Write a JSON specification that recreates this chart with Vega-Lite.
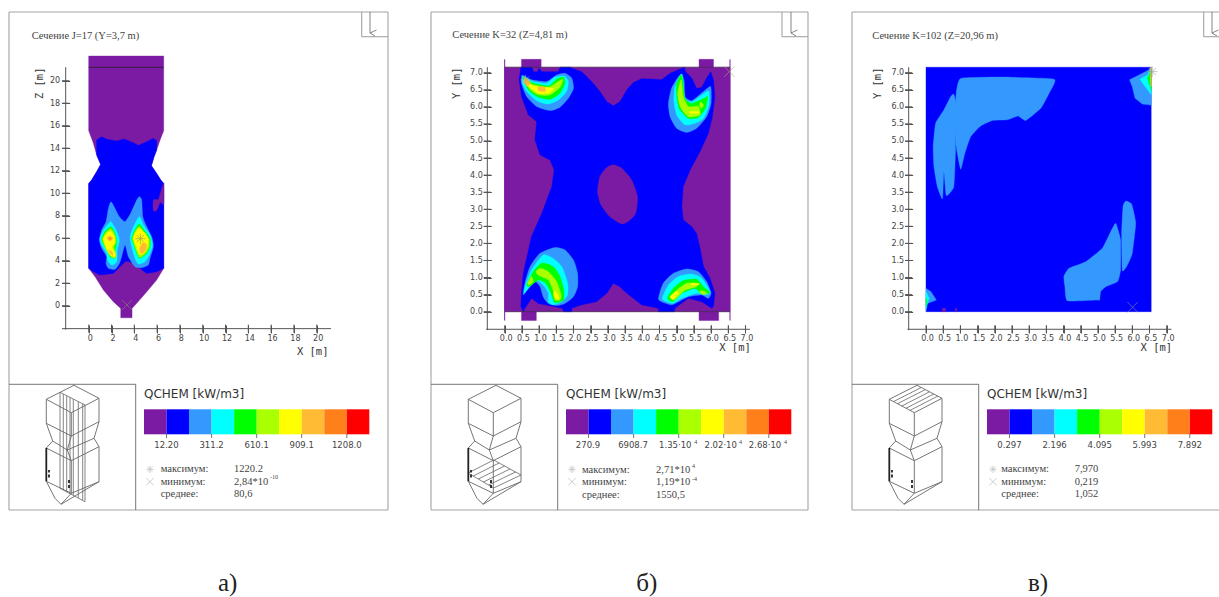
{
"$schema":"https://vega.github.io/schema/vega-lite/v6.json",
"padding":0,"spacing":0,"bounds":"flush","background":"white",
"config":{"view":{"stroke":null},"axis":{"grid":false,"domain":false,"ticks":true,"title":null,"labelFont":"DejaVu Sans","labelFontSize":8,"labelColor":"#444","tickColor":"#555","tickSize":8,"tickWidth":1,"tickOpacity":1,"labelOverlap":false,"labelFlush":false,"labelBound":false}},
"datasets":{
"tickA":[{"x":0,"x2":0,"y":-1.68,"y2":-2.4},{"x":2,"x2":2,"y":-1.68,"y2":-2.4},{"x":4,"x2":4,"y":-1.68,"y2":-2.4},{"x":6,"x2":6,"y":-1.68,"y2":-2.4},{"x":8,"x2":8,"y":-1.68,"y2":-2.4},{"x":10,"x2":10,"y":-1.68,"y2":-2.4},{"x":12,"x2":12,"y":-1.68,"y2":-2.4},{"x":14,"x2":14,"y":-1.68,"y2":-2.4},{"x":16,"x2":16,"y":-1.68,"y2":-2.4},{"x":18,"x2":18,"y":-1.68,"y2":-2.4},{"x":20,"x2":20,"y":-1.68,"y2":-2.4},
{"x":-2.35,"x2":-1.69,"y":0,"y2":0},{"x":-2.35,"x2":-1.69,"y":2,"y2":2},{"x":-2.35,"x2":-1.69,"y":4,"y2":4},{"x":-2.35,"x2":-1.69,"y":6,"y2":6},{"x":-2.35,"x2":-1.69,"y":8,"y2":8},{"x":-2.35,"x2":-1.69,"y":10,"y2":10},{"x":-2.35,"x2":-1.69,"y":12,"y2":12},{"x":-2.35,"x2":-1.69,"y":14,"y2":14},{"x":-2.35,"x2":-1.69,"y":16,"y2":16},{"x":-2.35,"x2":-1.69,"y":18,"y2":18},{"x":-2.35,"x2":-1.69,"y":20,"y2":20}],
"tickBC":[{"x":0,"x2":0,"y":-0.4,"y2":-0.63},{"x":0.5,"x2":0.5,"y":-0.4,"y2":-0.63},{"x":1,"x2":1,"y":-0.4,"y2":-0.63},{"x":1.5,"x2":1.5,"y":-0.4,"y2":-0.63},{"x":2,"x2":2,"y":-0.4,"y2":-0.63},{"x":2.5,"x2":2.5,"y":-0.4,"y2":-0.63},{"x":3,"x2":3,"y":-0.4,"y2":-0.63},{"x":3.5,"x2":3.5,"y":-0.4,"y2":-0.63},{"x":4,"x2":4,"y":-0.4,"y2":-0.63},{"x":4.5,"x2":4.5,"y":-0.4,"y2":-0.63},{"x":5,"x2":5,"y":-0.4,"y2":-0.63},{"x":5.5,"x2":5.5,"y":-0.4,"y2":-0.63},{"x":6,"x2":6,"y":-0.4,"y2":-0.63},{"x":6.5,"x2":6.5,"y":-0.4,"y2":-0.63},{"x":7,"x2":7,"y":-0.4,"y2":-0.63},
{"x":-0.61,"x2":-0.4,"y":0,"y2":0},{"x":-0.61,"x2":-0.4,"y":0.5,"y2":0.5},{"x":-0.61,"x2":-0.4,"y":1,"y2":1},{"x":-0.61,"x2":-0.4,"y":1.5,"y2":1.5},{"x":-0.61,"x2":-0.4,"y":2,"y2":2},{"x":-0.61,"x2":-0.4,"y":2.5,"y2":2.5},{"x":-0.61,"x2":-0.4,"y":3,"y2":3},{"x":-0.61,"x2":-0.4,"y":3.5,"y2":3.5},{"x":-0.61,"x2":-0.4,"y":4,"y2":4},{"x":-0.61,"x2":-0.4,"y":4.5,"y2":4.5},{"x":-0.61,"x2":-0.4,"y":5,"y2":5},{"x":-0.61,"x2":-0.4,"y":5.5,"y2":5.5},{"x":-0.61,"x2":-0.4,"y":6,"y2":6},{"x":-0.61,"x2":-0.4,"y":6.5,"y2":6.5},{"x":-0.61,"x2":-0.4,"y":7,"y2":7}],
"bar":[{"b":0,"u":135,"u2":157.5,"v":409.3,"v2":434.3},{"b":1,"u":157.5,"u2":180,"v":409.3,"v2":434.3},{"b":2,"u":180,"u2":202.6,"v":409.3,"v2":434.3},{"b":3,"u":202.6,"u2":225.1,"v":409.3,"v2":434.3},{"b":4,"u":225.1,"u2":247.7,"v":409.3,"v2":434.3},{"b":5,"u":247.7,"u2":270.2,"v":409.3,"v2":434.3},{"b":6,"u":270.2,"u2":292.7,"v":409.3,"v2":434.3},{"b":7,"u":292.7,"u2":315.3,"v":409.3,"v2":434.3},{"b":8,"u":315.3,"u2":337.8,"v":409.3,"v2":434.3},{"b":9,"u":337.8,"u2":360.3,"v":409.3,"v2":434.3}],
"wire":[
{"u":0,"v":384.3,"u2":126.7,"v2":384.3},{"u":126.7,"v":384.3,"u2":126.7,"v2":510},
{"u":157.5,"v":434,"u2":157.5,"v2":438},{"u":202.6,"v":434,"u2":202.6,"v2":438},{"u":247.7,"v":434,"u2":247.7,"v2":438},{"u":292.7,"v":434,"u2":292.7,"v2":438},{"u":337.8,"v":434,"u2":337.8,"v2":438},
{"u":65,"v":385.3,"u2":37.3,"v2":399.3},{"u":37.3,"v":399.3,"u2":62.3,"v2":412.7},{"u":62.3,"v":412.7,"u2":90,"v2":398.3},{"u":90,"v":398.3,"u2":65,"v2":385.3},
{"u":37.3,"v":399.3,"u2":37.3,"v2":423.3},{"u":62.3,"v":412.7,"u2":62.3,"v2":436},{"u":90,"v":398.3,"u2":90,"v2":421.7},
{"u":37.3,"v":423.3,"u2":62.3,"v2":436},{"u":62.3,"v":436,"u2":90,"v2":421.7},
{"u":37.3,"v":423.3,"u2":43.7,"v2":441},{"u":62.3,"v":436,"u2":58.3,"v2":450},{"u":90,"v":421.7,"u2":85,"v2":438.3},
{"u":43.7,"v":441,"u2":58.3,"v2":450},{"u":58.3,"v":450,"u2":85,"v2":438.3},
{"u":43.7,"v":441,"u2":37.3,"v2":448},{"u":58.3,"v":450,"u2":62.3,"v2":460.7},{"u":85,"v":438.3,"u2":90,"v2":446.7},
{"u":37.3,"v":448,"u2":62.3,"v2":460.7},{"u":62.3,"v":460.7,"u2":90,"v2":446.7},
{"u":62.3,"v":460.7,"u2":62.3,"v2":493.3},{"u":90,"v":446.7,"u2":90,"v2":481.7},
{"u":37.3,"v":481.3,"u2":62.3,"v2":493.3},{"u":62.3,"v":493.3,"u2":90,"v2":481.7},
{"u":37.3,"v":481.3,"u2":46,"v2":498.3},{"u":46,"v":498.3,"u2":52,"v2":504.3},{"u":62.3,"v":493.3,"u2":52,"v2":504.3},{"u":90,"v":481.7,"u2":52,"v2":504.3}
],
"dark":[{"u":37.3,"v":448,"u2":37.3,"v2":481.3},{"u":40,"v":470,"u2":40,"v2":472.5},{"u":40,"v":474.5,"u2":40,"v2":477.5},{"u":60,"v":480,"u2":60,"v2":483},{"u":60,"v":485,"u2":60,"v2":488}],
"glyph":[{"u":141,"v":469.3,"s":"max"},{"u":141,"v":481.7,"s":"min"}],
"polyA":[
{"p":"a0","b":0,"x":0,"y":22.19},{"p":"a0","b":0,"x":6.58,"y":22.19},{"p":"a0","b":0,"x":6.58,"y":15.56},{"p":"a0","b":0,"x":6.26,"y":14.73},{"p":"a0","b":0,"x":5.96,"y":13.84},{"p":"a0","b":0,"x":5.73,"y":13.24},{"p":"a0","b":0,"x":5.5,"y":12.44},{"p":"a0","b":0,"x":5.96,"y":11.76},{"p":"a0","b":0,"x":6.32,"y":11.17},{"p":"a0","b":0,"x":6.58,"y":10.87},{"p":"a0","b":0,"x":6.58,"y":3.32},{"p":"a0","b":0,"x":5.96,"y":2.28},{"p":"a0","b":0,"x":5.09,"y":1.24},{"p":"a0","b":0,"x":4.21,"y":0.21},{"p":"a0","b":0,"x":3.8,"y":-0.24},{"p":"a0","b":0,"x":3.8,"y":-1.07},{"p":"a0","b":0,"x":2.81,"y":-1.07},{"p":"a0","b":0,"x":2.81,"y":-0.24},{"p":"a0","b":0,"x":2.16,"y":0.36},{"p":"a0","b":0,"x":1.29,"y":1.39},{"p":"a0","b":0,"x":0.56,"y":2.58},{"p":"a0","b":0,"x":0,"y":3.32},{"p":"a0","b":0,"x":0,"y":10.87},{"p":"a0","b":0,"x":0.26,"y":11.17},{"p":"a0","b":0,"x":0.7,"y":11.91},{"p":"a0","b":0,"x":1.05,"y":12.56},{"p":"a0","b":0,"x":0.7,"y":13.39},{"p":"a0","b":0,"x":0.41,"y":14.43},{"p":"a0","b":0,"x":0,"y":15.56},
{"p":"a1","b":1,"x":0.7,"y":14.73},{"p":"a1","b":1,"x":1.14,"y":15.02},{"p":"a1","b":1,"x":1.58,"y":14.79},{"p":"a1","b":1,"x":2.46,"y":14.64},{"p":"a1","b":1,"x":3.1,"y":14.81},{"p":"a1","b":1,"x":3.92,"y":14.49},{"p":"a1","b":1,"x":4.36,"y":14.25},{"p":"a1","b":1,"x":5.09,"y":14.58},{"p":"a1","b":1,"x":5.67,"y":14.87},{"p":"a1","b":1,"x":5.96,"y":14.67},{"p":"a1","b":1,"x":5.96,"y":13.84},{"p":"a1","b":1,"x":5.73,"y":13.24},{"p":"a1","b":1,"x":5.5,"y":12.44},{"p":"a1","b":1,"x":5.96,"y":11.76},{"p":"a1","b":1,"x":6.32,"y":11.17},{"p":"a1","b":1,"x":6.58,"y":10.87},{"p":"a1","b":1,"x":6.58,"y":3.32},{"p":"a1","b":1,"x":5.96,"y":3.02},{"p":"a1","b":1,"x":5.09,"y":2.87},{"p":"a1","b":1,"x":4.5,"y":3.32},{"p":"a1","b":1,"x":3.77,"y":3.85},{"p":"a1","b":1,"x":3.27,"y":3.97},{"p":"a1","b":1,"x":2.75,"y":3.47},{"p":"a1","b":1,"x":2.16,"y":2.87},{"p":"a1","b":1,"x":0.99,"y":2.73},{"p":"a1","b":1,"x":0.41,"y":3.02},{"p":"a1","b":1,"x":0,"y":3.32},{"p":"a1","b":1,"x":0,"y":10.87},{"p":"a1","b":1,"x":0.26,"y":11.17},{"p":"a1","b":1,"x":0.7,"y":11.91},{"p":"a1","b":1,"x":1.05,"y":12.56},{"p":"a1","b":1,"x":0.7,"y":13.39},
{"p":"a1b","b":0,"x":5.67,"y":9.39},{"p":"a1b","b":0,"x":6.11,"y":9.45},{"p":"a1b","b":0,"x":6.32,"y":10.13},{"p":"a1b","b":0,"x":6.58,"y":10.87},{"p":"a1b","b":0,"x":6.58,"y":9.03},{"p":"a1b","b":0,"x":6.26,"y":9.18},{"p":"a1b","b":0,"x":5.96,"y":8.47},{"p":"a1b","b":0,"x":5.67,"y":8.47},
{"p":"a2","b":2,"x":1.96,"y":9.24},{"p":"a2","b":2,"x":2.31,"y":8.65},{"p":"a2","b":2,"x":2.69,"y":7.91},{"p":"a2","b":2,"x":3.19,"y":7.47},{"p":"a2","b":2,"x":3.68,"y":8.21},{"p":"a2","b":2,"x":4.21,"y":9.39},{"p":"a2","b":2,"x":4.44,"y":9.69},{"p":"a2","b":2,"x":4.65,"y":9.39},{"p":"a2","b":2,"x":4.74,"y":7.91},{"p":"a2","b":2,"x":5.09,"y":7.02},{"p":"a2","b":2,"x":5.53,"y":6.13},{"p":"a2","b":2,"x":5.67,"y":5.24},{"p":"a2","b":2,"x":5.38,"y":4.21},{"p":"a2","b":2,"x":5.23,"y":3.61},{"p":"a2","b":2,"x":4.65,"y":3.38},{"p":"a2","b":2,"x":4.06,"y":3.47},{"p":"a2","b":2,"x":3.48,"y":4.36},{"p":"a2","b":2,"x":3.19,"y":5.39},{"p":"a2","b":2,"x":2.89,"y":4.36},{"p":"a2","b":2,"x":2.69,"y":3.76},{"p":"a2","b":2,"x":2.31,"y":3.23},{"p":"a2","b":2,"x":1.73,"y":3.32},{"p":"a2","b":2,"x":1.52,"y":3.76},{"p":"a2","b":2,"x":1.58,"y":4.36},{"p":"a2","b":2,"x":1.14,"y":5.1},{"p":"a2","b":2,"x":0.94,"y":5.84},{"p":"a2","b":2,"x":1.14,"y":6.73},{"p":"a2","b":2,"x":1.52,"y":7.47},{"p":"a2","b":2,"x":1.73,"y":8.65},
{"p":"a3","b":3,"x":1.96,"y":7.47},{"p":"a3","b":3,"x":2.4,"y":6.73},{"p":"a3","b":3,"x":2.69,"y":5.84},{"p":"a3","b":3,"x":2.51,"y":4.95},{"p":"a3","b":3,"x":2.46,"y":3.91},{"p":"a3","b":3,"x":2.02,"y":3.61},{"p":"a3","b":3,"x":1.64,"y":4.06},{"p":"a3","b":3,"x":1.58,"y":4.65},{"p":"a3","b":3,"x":1.14,"y":5.39},{"p":"a3","b":3,"x":0.99,"y":5.99},{"p":"a3","b":3,"x":1.29,"y":6.73},{"p":"a3","b":3,"x":1.64,"y":7.17},
{"p":"a4","b":3,"x":4.44,"y":7.91},{"p":"a4","b":3,"x":4.8,"y":7.17},{"p":"a4","b":3,"x":5.38,"y":6.28},{"p":"a4","b":3,"x":5.61,"y":5.39},{"p":"a4","b":3,"x":5.32,"y":4.5},{"p":"a4","b":3,"x":4.94,"y":3.91},{"p":"a4","b":3,"x":4.36,"y":3.7},{"p":"a4","b":3,"x":4.06,"y":4.21},{"p":"a4","b":3,"x":3.77,"y":5.24},{"p":"a4","b":3,"x":3.63,"y":6.13},{"p":"a4","b":3,"x":3.92,"y":7.02},
{"p":"a5","b":4,"x":1.96,"y":7.02},{"p":"a5","b":4,"x":2.31,"y":6.43},{"p":"a5","b":4,"x":2.46,"y":5.69},{"p":"a5","b":4,"x":2.31,"y":4.8},{"p":"a5","b":4,"x":2.31,"y":4.21},{"p":"a5","b":4,"x":1.87,"y":4.36},{"p":"a5","b":4,"x":1.52,"y":5.1},{"p":"a5","b":4,"x":1.14,"y":5.84},{"p":"a5","b":4,"x":1.43,"y":6.58},
{"p":"a6","b":4,"x":4.44,"y":7.26},{"p":"a6","b":4,"x":4.85,"y":6.73},{"p":"a6","b":4,"x":5.38,"y":5.99},{"p":"a6","b":4,"x":5.38,"y":5.24},{"p":"a6","b":4,"x":5.09,"y":4.65},{"p":"a6","b":4,"x":4.5,"y":4.21},{"p":"a6","b":4,"x":4.27,"y":4.5},{"p":"a6","b":4,"x":3.98,"y":5.39},{"p":"a6","b":4,"x":3.77,"y":5.99},{"p":"a6","b":4,"x":4.06,"y":6.73},
{"p":"a6l","b":5,"x":1.96,"y":6.85},{"p":"a6l","b":5,"x":2.31,"y":6.25},{"p":"a6l","b":5,"x":2.38,"y":5.6},{"p":"a6l","b":5,"x":2.2,"y":5.2},{"p":"a6l","b":5,"x":2.38,"y":4.6},{"p":"a6l","b":5,"x":2.3,"y":4.25},{"p":"a6l","b":5,"x":1.9,"y":4.42},{"p":"a6l","b":5,"x":1.52,"y":5.05},{"p":"a6l","b":5,"x":1.22,"y":5.88},{"p":"a6l","b":5,"x":1.5,"y":6.5},
{"p":"a6r","b":5,"x":4.44,"y":7.05},{"p":"a6r","b":5,"x":4.85,"y":6.55},{"p":"a6r","b":5,"x":5.3,"y":5.95},{"p":"a6r","b":5,"x":5.3,"y":5.25},{"p":"a6r","b":5,"x":5.02,"y":4.7},{"p":"a6r","b":5,"x":4.5,"y":4.3},{"p":"a6r","b":5,"x":4.3,"y":4.6},{"p":"a6r","b":5,"x":4.02,"y":5.4},{"p":"a6r","b":5,"x":3.85,"y":6},{"p":"a6r","b":5,"x":4.1,"y":6.65},
{"p":"a7","b":6,"x":1.96,"y":6.58},{"p":"a7","b":6,"x":2.25,"y":6.13},{"p":"a7","b":6,"x":2.28,"y":5.54},{"p":"a7","b":6,"x":2.02,"y":5.24},{"p":"a7","b":6,"x":2.31,"y":4.65},{"p":"a7","b":6,"x":2.28,"y":4.3},{"p":"a7","b":6,"x":1.93,"y":4.5},{"p":"a7","b":6,"x":1.58,"y":5.1},{"p":"a7","b":6,"x":1.29,"y":5.9},{"p":"a7","b":6,"x":1.58,"y":6.43},
{"p":"a8","b":6,"x":4.44,"y":6.87},{"p":"a8","b":6,"x":4.94,"y":6.43},{"p":"a8","b":6,"x":5.23,"y":5.84},{"p":"a8","b":6,"x":5.09,"y":5.1},{"p":"a8","b":6,"x":4.65,"y":4.5},{"p":"a8","b":6,"x":4.36,"y":4.8},{"p":"a8","b":6,"x":4.06,"y":5.54},{"p":"a8","b":6,"x":3.92,"y":5.99},{"p":"a8","b":6,"x":4.15,"y":6.58},
{"p":"a9","b":7,"x":4.7,"y":5.55},{"p":"a9","b":7,"x":5.05,"y":5.5},{"p":"a9","b":7,"x":5.05,"y":5.05},{"p":"a9","b":7,"x":4.65,"y":4.6},{"p":"a9","b":7,"x":4.45,"y":5},
{"p":"a10","b":7,"x":1.6,"y":6},{"p":"a10","b":7,"x":1.85,"y":6.2},{"p":"a10","b":7,"x":2.15,"y":6},{"p":"a10","b":7,"x":1.85,"y":5.75},
{"p":"a11","b":8,"x":1.75,"y":6},{"p":"a11","b":8,"x":1.9,"y":6.07},{"p":"a11","b":8,"x":2,"y":5.95},{"p":"a11","b":8,"x":1.85,"y":5.88},
{"p":"a12","b":7,"x":1.75,"y":5},{"p":"a12","b":7,"x":2.1,"y":4.75},{"p":"a12","b":7,"x":2.1,"y":4.45},{"p":"a12","b":7,"x":1.85,"y":4.7}
],
"polyB":[
{"p":"b0","b":0,"x":0,"y":0},{"p":"b0","b":0,"x":0,"y":7.16},{"p":"b0","b":0,"x":0.49,"y":7.16},{"p":"b0","b":0,"x":0.49,"y":7.39},{"p":"b0","b":0,"x":1.06,"y":7.39},{"p":"b0","b":0,"x":1.06,"y":7.16},{"p":"b0","b":0,"x":5.65,"y":7.16},{"p":"b0","b":0,"x":5.65,"y":7.39},{"p":"b0","b":0,"x":6.07,"y":7.39},{"p":"b0","b":0,"x":6.07,"y":7.16},{"p":"b0","b":0,"x":6.55,"y":7.16},{"p":"b0","b":0,"x":6.55,"y":0},{"p":"b0","b":0,"x":6.22,"y":0},{"p":"b0","b":0,"x":6.22,"y":-0.26},{"p":"b0","b":0,"x":5.65,"y":-0.26},{"p":"b0","b":0,"x":5.65,"y":0},{"p":"b0","b":0,"x":0.92,"y":0},{"p":"b0","b":0,"x":0.92,"y":-0.26},{"p":"b0","b":0,"x":0.49,"y":-0.26},{"p":"b0","b":0,"x":0.49,"y":0},
{"p":"b1","b":1,"x":0.47,"y":7.16},{"p":"b1","b":1,"x":0.8,"y":7.16},{"p":"b1","b":1,"x":0.83,"y":7.03},{"p":"b1","b":1,"x":0.96,"y":7.03},{"p":"b1","b":1,"x":1,"y":7.13},{"p":"b1","b":1,"x":1.08,"y":7.03},{"p":"b1","b":1,"x":1.56,"y":7.03},{"p":"b1","b":1,"x":1.61,"y":7.16},{"p":"b1","b":1,"x":1.92,"y":7.16},{"p":"b1","b":1,"x":1.95,"y":7.13},{"p":"b1","b":1,"x":2.24,"y":7.03},{"p":"b1","b":1,"x":2.53,"y":6.74},{"p":"b1","b":1,"x":2.77,"y":6.45},{"p":"b1","b":1,"x":2.97,"y":6.15},{"p":"b1","b":1,"x":3.16,"y":6.03},{"p":"b1","b":1,"x":3.35,"y":6.15},{"p":"b1","b":1,"x":3.55,"y":6.49},{"p":"b1","b":1,"x":3.74,"y":6.71},{"p":"b1","b":1,"x":3.98,"y":6.82},{"p":"b1","b":1,"x":4.37,"y":6.81},{"p":"b1","b":1,"x":4.56,"y":6.79},{"p":"b1","b":1,"x":4.81,"y":6.98},{"p":"b1","b":1,"x":5.15,"y":7.13},{"p":"b1","b":1,"x":5.22,"y":7.16},{"p":"b1","b":1,"x":5.26,"y":7.03},{"p":"b1","b":1,"x":5.44,"y":6.84},{"p":"b1","b":1,"x":5.58,"y":6.54},{"p":"b1","b":1,"x":5.73,"y":6.57},{"p":"b1","b":1,"x":5.87,"y":6.84},{"p":"b1","b":1,"x":5.99,"y":7.03},{"p":"b1","b":1,"x":6.07,"y":6.79},{"p":"b1","b":1,"x":6.11,"y":6.3},{"p":"b1","b":1,"x":6.04,"y":5.71},{"p":"b1","b":1,"x":5.92,"y":5.22},{"p":"b1","b":1,"x":5.68,"y":4.69},{"p":"b1","b":1,"x":5.39,"y":4.15},{"p":"b1","b":1,"x":5.19,"y":3.66},{"p":"b1","b":1,"x":5.15,"y":3.08},{"p":"b1","b":1,"x":5.19,"y":2.69},{"p":"b1","b":1,"x":5.44,"y":2.49},{"p":"b1","b":1,"x":5.58,"y":2.29},{"p":"b1","b":1,"x":5.68,"y":1.86},{"p":"b1","b":1,"x":5.78,"y":1.32},{"p":"b1","b":1,"x":5.97,"y":0.98},{"p":"b1","b":1,"x":6.11,"y":0.54},{"p":"b1","b":1,"x":6.07,"y":0.15},{"p":"b1","b":1,"x":6.02,"y":0.1},{"p":"b1","b":1,"x":5.73,"y":0.29},{"p":"b1","b":1,"x":5.34,"y":0.39},{"p":"b1","b":1,"x":4.95,"y":0.1},{"p":"b1","b":1,"x":4.93,"y":0},{"p":"b1","b":1,"x":4.47,"y":0},{"p":"b1","b":1,"x":4.47,"y":0.1},{"p":"b1","b":1,"x":3.98,"y":0.2},{"p":"b1","b":1,"x":3.55,"y":0.54},{"p":"b1","b":1,"x":3.35,"y":0.73},{"p":"b1","b":1,"x":3.16,"y":0.83},{"p":"b1","b":1,"x":2.97,"y":0.54},{"p":"b1","b":1,"x":2.67,"y":0.29},{"p":"b1","b":1,"x":2.24,"y":0.2},{"p":"b1","b":1,"x":1.95,"y":0.1},{"p":"b1","b":1,"x":1.95,"y":0},{"p":"b1","b":1,"x":1.71,"y":0},{"p":"b1","b":1,"x":1.68,"y":0.1},{"p":"b1","b":1,"x":0.98,"y":0.24},{"p":"b1","b":1,"x":0.78,"y":0.39},{"p":"b1","b":1,"x":0.59,"y":0.1},{"p":"b1","b":1,"x":0.54,"y":0},{"p":"b1","b":1,"x":0.47,"y":0.15},{"p":"b1","b":1,"x":0.49,"y":0.54},{"p":"b1","b":1,"x":0.54,"y":1.12},{"p":"b1","b":1,"x":0.78,"y":2.2},{"p":"b1","b":1,"x":1.08,"y":2.88},{"p":"b1","b":1,"x":1.37,"y":3.66},{"p":"b1","b":1,"x":1.44,"y":4.15},{"p":"b1","b":1,"x":1.32,"y":4.44},{"p":"b1","b":1,"x":1.03,"y":4.59},{"p":"b1","b":1,"x":0.88,"y":5.03},{"p":"b1","b":1,"x":0.93,"y":5.57},{"p":"b1","b":1,"x":0.69,"y":5.76},{"p":"b1","b":1,"x":0.49,"y":6.3},{"p":"b1","b":1,"x":0.42,"y":6.79},
{"p":"bh","b":0,"x":3.16,"y":4.3},{"p":"bh","b":0,"x":3.4,"y":4.2},{"p":"bh","b":0,"x":3.69,"y":3.86},{"p":"bh","b":0,"x":3.86,"y":3.37},{"p":"bh","b":0,"x":3.81,"y":2.88},{"p":"bh","b":0,"x":3.59,"y":2.64},{"p":"bh","b":0,"x":3.4,"y":2.57},{"p":"bh","b":0,"x":3.06,"y":2.78},{"p":"bh","b":0,"x":2.8,"y":3.13},{"p":"bh","b":0,"x":2.7,"y":3.52},{"p":"bh","b":0,"x":2.77,"y":3.96},{"p":"bh","b":0,"x":2.97,"y":4.22},
{"p":"tl2","b":2,"x":0.51,"y":6.93},{"p":"tl2","b":2,"x":0.78,"y":6.79},{"p":"tl2","b":2,"x":1.22,"y":6.74},{"p":"tl2","b":2,"x":1.51,"y":6.93},{"p":"tl2","b":2,"x":1.75,"y":6.98},{"p":"tl2","b":2,"x":1.95,"y":6.84},{"p":"tl2","b":2,"x":2,"y":6.54},{"p":"tl2","b":2,"x":1.85,"y":6.25},{"p":"tl2","b":2,"x":1.61,"y":5.99},{"p":"tl2","b":2,"x":1.32,"y":5.89},{"p":"tl2","b":2,"x":0.93,"y":6.01},{"p":"tl2","b":2,"x":0.64,"y":6.3},{"p":"tl2","b":2,"x":0.49,"y":6.69},
{"p":"tl3","b":3,"x":0.54,"y":6.88},{"p":"tl3","b":3,"x":0.83,"y":6.74},{"p":"tl3","b":3,"x":1.22,"y":6.69},{"p":"tl3","b":3,"x":1.46,"y":6.87},{"p":"tl3","b":3,"x":1.73,"y":6.9},{"p":"tl3","b":3,"x":1.85,"y":6.74},{"p":"tl3","b":3,"x":1.8,"y":6.45},{"p":"tl3","b":3,"x":1.56,"y":6.2},{"p":"tl3","b":3,"x":1.27,"y":6.08},{"p":"tl3","b":3,"x":0.93,"y":6.18},{"p":"tl3","b":3,"x":0.64,"y":6.45},{"p":"tl3","b":3,"x":0.51,"y":6.69},
{"p":"tl4","b":4,"x":0.54,"y":6.87},{"p":"tl4","b":4,"x":0.78,"y":6.71},{"p":"tl4","b":4,"x":1.27,"y":6.61},{"p":"tl4","b":4,"x":1.51,"y":6.81},{"p":"tl4","b":4,"x":1.71,"y":6.87},{"p":"tl4","b":4,"x":1.75,"y":6.69},{"p":"tl4","b":4,"x":1.61,"y":6.4},{"p":"tl4","b":4,"x":1.32,"y":6.22},{"p":"tl4","b":4,"x":0.98,"y":6.28},{"p":"tl4","b":4,"x":0.69,"y":6.49},
{"p":"tl5","b":5,"x":0.59,"y":6.84},{"p":"tl5","b":5,"x":0.78,"y":6.67},{"p":"tl5","b":5,"x":1.27,"y":6.57},{"p":"tl5","b":5,"x":1.56,"y":6.74},{"p":"tl5","b":5,"x":1.69,"y":6.81},{"p":"tl5","b":5,"x":1.61,"y":6.57},{"p":"tl5","b":5,"x":1.32,"y":6.35},{"p":"tl5","b":5,"x":0.98,"y":6.35},{"p":"tl5","b":5,"x":0.71,"y":6.54},
{"p":"tl6","b":6,"x":0.59,"y":6.81},{"p":"tl6","b":6,"x":0.83,"y":6.61},{"p":"tl6","b":6,"x":1.41,"y":6.54},{"p":"tl6","b":6,"x":1.27,"y":6.4},{"p":"tl6","b":6,"x":0.98,"y":6.4},{"p":"tl6","b":6,"x":0.74,"y":6.57},
{"p":"tl7","b":7,"x":0.98,"y":6.59},{"p":"tl7","b":7,"x":1.17,"y":6.57},{"p":"tl7","b":7,"x":1.17,"y":6.45},{"p":"tl7","b":7,"x":0.98,"y":6.47},
{"p":"tl8","b":7,"x":0.6,"y":6.85},{"p":"tl8","b":7,"x":0.75,"y":6.7},{"p":"tl8","b":7,"x":0.65,"y":6.6},{"p":"tl8","b":7,"x":0.55,"y":6.75},
{"p":"tr2","b":2,"x":5.15,"y":6.96},{"p":"tr2","b":2,"x":5.22,"y":6.74},{"p":"tr2","b":2,"x":5.24,"y":6.3},{"p":"tr2","b":2,"x":5.44,"y":6.18},{"p":"tr2","b":2,"x":5.78,"y":6.45},{"p":"tr2","b":2,"x":5.99,"y":6.59},{"p":"tr2","b":2,"x":6,"y":6.1},{"p":"tr2","b":2,"x":5.87,"y":5.71},{"p":"tr2","b":2,"x":5.58,"y":5.37},{"p":"tr2","b":2,"x":5.29,"y":5.25},{"p":"tr2","b":2,"x":5,"y":5.37},{"p":"tr2","b":2,"x":4.81,"y":5.71},{"p":"tr2","b":2,"x":4.76,"y":6.1},{"p":"tr2","b":2,"x":4.85,"y":6.54},{"p":"tr2","b":2,"x":5.05,"y":6.88},
{"p":"tr3","b":3,"x":5.15,"y":6.96},{"p":"tr3","b":3,"x":5.24,"y":6.25},{"p":"tr3","b":3,"x":5.44,"y":6.15},{"p":"tr3","b":3,"x":5.8,"y":6.4},{"p":"tr3","b":3,"x":5.94,"y":6.45},{"p":"tr3","b":3,"x":5.94,"y":6.05},{"p":"tr3","b":3,"x":5.78,"y":5.66},{"p":"tr3","b":3,"x":5.53,"y":5.52},{"p":"tr3","b":3,"x":5.24,"y":5.47},{"p":"tr3","b":3,"x":5,"y":5.76},{"p":"tr3","b":3,"x":4.92,"y":6.2},{"p":"tr3","b":3,"x":4.95,"y":6.59},
{"p":"tr4","b":4,"x":5.15,"y":6.93},{"p":"tr4","b":4,"x":5.24,"y":6.25},{"p":"tr4","b":4,"x":5.44,"y":6.1},{"p":"tr4","b":4,"x":5.8,"y":6.25},{"p":"tr4","b":4,"x":5.9,"y":6.3},{"p":"tr4","b":4,"x":5.84,"y":5.96},{"p":"tr4","b":4,"x":5.63,"y":5.69},{"p":"tr4","b":4,"x":5.34,"y":5.66},{"p":"tr4","b":4,"x":5.07,"y":5.96},{"p":"tr4","b":4,"x":5,"y":6.35},{"p":"tr4","b":4,"x":5,"y":6.69},
{"p":"tr5","b":5,"x":5.13,"y":6.79},{"p":"tr5","b":5,"x":5.19,"y":6.3},{"p":"tr5","b":5,"x":5.34,"y":6.01},{"p":"tr5","b":5,"x":5.63,"y":6.01},{"p":"tr5","b":5,"x":5.68,"y":5.76},{"p":"tr5","b":5,"x":5.34,"y":5.71},{"p":"tr5","b":5,"x":5.1,"y":6.01},{"p":"tr5","b":5,"x":5.03,"y":6.4},
{"p":"tr6","b":5,"x":5.7,"y":6.15},{"p":"tr6","b":5,"x":5.78,"y":6.05},{"p":"tr6","b":5,"x":5.72,"y":5.95},{"p":"tr6","b":5,"x":5.66,"y":6.05},
{"p":"tr7","b":6,"x":5.39,"y":5.86},{"p":"tr7","b":6,"x":5.63,"y":5.86},{"p":"tr7","b":6,"x":5.63,"y":5.81},{"p":"tr7","b":6,"x":5.39,"y":5.81},
{"p":"bl2","b":2,"x":1.46,"y":1.88},{"p":"bl2","b":2,"x":1.75,"y":1.81},{"p":"bl2","b":2,"x":2,"y":1.51},{"p":"bl2","b":2,"x":2.12,"y":1.12},{"p":"bl2","b":2,"x":2.12,"y":0.73},{"p":"bl2","b":2,"x":2,"y":0.44},{"p":"bl2","b":2,"x":1.75,"y":0.24},{"p":"bl2","b":2,"x":1.51,"y":0.18},{"p":"bl2","b":2,"x":1.27,"y":0.24},{"p":"bl2","b":2,"x":1.12,"y":0.44},{"p":"bl2","b":2,"x":1.03,"y":0.73},{"p":"bl2","b":2,"x":0.88,"y":0.88},{"p":"bl2","b":2,"x":0.69,"y":0.68},{"p":"bl2","b":2,"x":0.54,"y":0.49},{"p":"bl2","b":2,"x":0.59,"y":0.83},{"p":"bl2","b":2,"x":0.74,"y":1.32},{"p":"bl2","b":2,"x":1.03,"y":1.71},
{"p":"bl3","b":3,"x":1.12,"y":1.66},{"p":"bl3","b":3,"x":1.41,"y":1.56},{"p":"bl3","b":3,"x":1.66,"y":1.32},{"p":"bl3","b":3,"x":1.83,"y":0.83},{"p":"bl3","b":3,"x":1.83,"y":0.49},{"p":"bl3","b":3,"x":1.66,"y":0.29},{"p":"bl3","b":3,"x":1.41,"y":0.2},{"p":"bl3","b":3,"x":1.27,"y":0.29},{"p":"bl3","b":3,"x":1.27,"y":0.54},{"p":"bl3","b":3,"x":1.12,"y":0.78},{"p":"bl3","b":3,"x":0.93,"y":0.91},{"p":"bl3","b":3,"x":0.71,"y":0.71},{"p":"bl3","b":3,"x":0.57,"y":0.54},{"p":"bl3","b":3,"x":0.59,"y":0.73},{"p":"bl3","b":3,"x":0.78,"y":1.22},
{"p":"bl4","b":4,"x":1.08,"y":1.42},{"p":"bl4","b":4,"x":1.41,"y":1.32},{"p":"bl4","b":4,"x":1.61,"y":1.03},{"p":"bl4","b":4,"x":1.72,"y":0.63},{"p":"bl4","b":4,"x":1.71,"y":0.34},{"p":"bl4","b":4,"x":1.46,"y":0.26},{"p":"bl4","b":4,"x":1.35,"y":0.54},{"p":"bl4","b":4,"x":1.19,"y":0.83},{"p":"bl4","b":4,"x":0.98,"y":0.93},{"p":"bl4","b":4,"x":0.74,"y":0.75},{"p":"bl4","b":4,"x":0.64,"y":0.78},{"p":"bl4","b":4,"x":0.83,"y":1.17},
{"p":"bl5","b":5,"x":1.03,"y":1.27},{"p":"bl5","b":5,"x":1.27,"y":1.17},{"p":"bl5","b":5,"x":1.51,"y":0.88},{"p":"bl5","b":5,"x":1.64,"y":0.49},{"p":"bl5","b":5,"x":1.61,"y":0.34},{"p":"bl5","b":5,"x":1.46,"y":0.34},{"p":"bl5","b":5,"x":1.41,"y":0.63},{"p":"bl5","b":5,"x":1.27,"y":0.93},{"p":"bl5","b":5,"x":0.98,"y":1.07},{"p":"bl5","b":5,"x":0.91,"y":1.17},
{"p":"bl6","b":5,"x":0.78,"y":1.03},{"p":"bl6","b":5,"x":0.83,"y":0.88},{"p":"bl6","b":5,"x":0.71,"y":0.78},{"p":"bl6","b":5,"x":0.67,"y":0.83},
{"p":"bl7","b":6,"x":1.45,"y":0.62},{"p":"bl7","b":6,"x":1.58,"y":0.42},{"p":"bl7","b":6,"x":1.5,"y":0.35},{"p":"bl7","b":6,"x":1.42,"y":0.5},
{"p":"br2","b":2,"x":4.47,"y":0.39},{"p":"br2","b":2,"x":4.61,"y":0.83},{"p":"br2","b":2,"x":4.9,"y":1.12},{"p":"br2","b":2,"x":5.29,"y":1.25},{"p":"br2","b":2,"x":5.63,"y":1.17},{"p":"br2","b":2,"x":5.87,"y":0.88},{"p":"br2","b":2,"x":6,"y":0.54},{"p":"br2","b":2,"x":5.92,"y":0.39},{"p":"br2","b":2,"x":5.73,"y":0.49},{"p":"br2","b":2,"x":5.34,"y":0.44},{"p":"br2","b":2,"x":5.05,"y":0.29},{"p":"br2","b":2,"x":4.85,"y":0.2},{"p":"br2","b":2,"x":4.56,"y":0.29},
{"p":"br3","b":3,"x":4.58,"y":0.39},{"p":"br3","b":3,"x":4.76,"y":0.78},{"p":"br3","b":3,"x":5.05,"y":1.03},{"p":"br3","b":3,"x":5.44,"y":1.1},{"p":"br3","b":3,"x":5.73,"y":0.98},{"p":"br3","b":3,"x":5.97,"y":0.59},{"p":"br3","b":3,"x":5.87,"y":0.49},{"p":"br3","b":3,"x":5.58,"y":0.54},{"p":"br3","b":3,"x":5.15,"y":0.39},{"p":"br3","b":3,"x":4.9,"y":0.24},{"p":"br3","b":3,"x":4.71,"y":0.29},
{"p":"br4","b":4,"x":4.73,"y":0.39},{"p":"br4","b":4,"x":4.9,"y":0.68},{"p":"br4","b":4,"x":5.19,"y":0.91},{"p":"br4","b":4,"x":5.58,"y":0.95},{"p":"br4","b":4,"x":5.78,"y":0.73},{"p":"br4","b":4,"x":5.97,"y":0.56},{"p":"br4","b":4,"x":5.73,"y":0.52},{"p":"br4","b":4,"x":5.53,"y":0.68},{"p":"br4","b":4,"x":5.15,"y":0.54},{"p":"br4","b":4,"x":4.9,"y":0.29},
{"p":"br5","b":5,"x":4.81,"y":0.44},{"p":"br5","b":5,"x":5,"y":0.63},{"p":"br5","b":5,"x":5.29,"y":0.83},{"p":"br5","b":5,"x":5.58,"y":0.83},{"p":"br5","b":5,"x":5.58,"y":0.73},{"p":"br5","b":5,"x":5.24,"y":0.63},{"p":"br5","b":5,"x":4.93,"y":0.34},
{"p":"br6","b":6,"x":4.81,"y":0.44},{"p":"br6","b":6,"x":5,"y":0.59},{"p":"br6","b":6,"x":5.05,"y":0.54},{"p":"br6","b":6,"x":4.9,"y":0.37},
{"p":"br7","b":6,"x":5.43,"y":0.83},{"p":"br7","b":6,"x":5.65,"y":0.83},{"p":"br7","b":6,"x":5.63,"y":0.78},{"p":"br7","b":6,"x":5.43,"y":0.78},
{"p":"br8","b":5,"x":5.7,"y":0.62},{"p":"br8","b":5,"x":5.88,"y":0.56},{"p":"br8","b":5,"x":5.8,"y":0.5},{"p":"br8","b":5,"x":5.68,"y":0.55}
],
"polyC":[
{"p":"c0","b":1,"x":0,"y":0},{"p":"c0","b":1,"x":0,"y":7.16},{"p":"c0","b":1,"x":6.55,"y":7.16},{"p":"c0","b":1,"x":6.55,"y":0},
{"p":"c1","b":2,"x":1.01,"y":6.83},{"p":"c1","b":2,"x":2.22,"y":6.87},{"p":"c1","b":2,"x":3.73,"y":6.81},{"p":"c1","b":2,"x":3.58,"y":6.4},{"p":"c1","b":2,"x":3.34,"y":5.96},{"p":"c1","b":2,"x":2.9,"y":5.6},{"p":"c1","b":2,"x":2.68,"y":5.73},{"p":"c1","b":2,"x":2.37,"y":5.62},{"p":"c1","b":2,"x":1.93,"y":5.6},{"p":"c1","b":2,"x":1.59,"y":5.44},{"p":"c1","b":2,"x":1.3,"y":5.13},{"p":"c1","b":2,"x":1.13,"y":4.64},{"p":"c1","b":2,"x":1.01,"y":4.17},{"p":"c1","b":2,"x":0.88,"y":4.83},{"p":"c1","b":2,"x":0.84,"y":5.81},{"p":"c1","b":2,"x":0.88,"y":6.4},
{"p":"c2","b":2,"x":0.81,"y":6.37},{"p":"c2","b":2,"x":0.88,"y":6.01},{"p":"c2","b":2,"x":0.86,"y":4.74},{"p":"c2","b":2,"x":0.81,"y":3.66},{"p":"c2","b":2,"x":0.59,"y":3.4},{"p":"c2","b":2,"x":0.52,"y":4.1},{"p":"c2","b":2,"x":0.48,"y":3.3},{"p":"c2","b":2,"x":0.33,"y":3.66},{"p":"c2","b":2,"x":0.23,"y":4.25},{"p":"c2","b":2,"x":0.21,"y":4.83},{"p":"c2","b":2,"x":0.28,"y":5.52},{"p":"c2","b":2,"x":0.52,"y":5.91},{"p":"c2","b":2,"x":0.72,"y":6.3},
{"p":"c3","b":2,"x":5.52,"y":2.59},{"p":"c3","b":2,"x":5.66,"y":2.1},{"p":"c3","b":2,"x":5.66,"y":1.22},{"p":"c3","b":2,"x":5.57,"y":0.88},{"p":"c3","b":2,"x":5.23,"y":0.73},{"p":"c3","b":2,"x":5.08,"y":0.59},{"p":"c3","b":2,"x":5.05,"y":0.34},{"p":"c3","b":2,"x":4.94,"y":0.34},{"p":"c3","b":2,"x":4.11,"y":0.32},{"p":"c3","b":2,"x":4.04,"y":0.73},{"p":"c3","b":2,"x":4.01,"y":1.03},{"p":"c3","b":2,"x":4.16,"y":1.27},{"p":"c3","b":2,"x":4.64,"y":1.46},{"p":"c3","b":2,"x":5.13,"y":1.86},{"p":"c3","b":2,"x":5.37,"y":2.34},
{"p":"c4","b":2,"x":5.81,"y":3.24},{"p":"c4","b":2,"x":5.98,"y":3.15},{"p":"c4","b":2,"x":6.1,"y":2.59},{"p":"c4","b":2,"x":6,"y":1.71},{"p":"c4","b":2,"x":5.86,"y":1.37},{"p":"c4","b":2,"x":5.71,"y":1.2},{"p":"c4","b":2,"x":5.69,"y":2.29},{"p":"c4","b":2,"x":5.73,"y":3.08},
{"p":"c5","b":2,"x":5.92,"y":6.79},{"p":"c5","b":2,"x":6.44,"y":7.06},{"p":"c5","b":2,"x":6.55,"y":7.15},{"p":"c5","b":2,"x":6.55,"y":6.05},{"p":"c5","b":2,"x":6.29,"y":6.08},{"p":"c5","b":2,"x":6.08,"y":6.25},{"p":"c5","b":2,"x":6,"y":6.59},
{"p":"c6","b":3,"x":6.22,"y":6.81},{"p":"c6","b":3,"x":6.44,"y":6.93},{"p":"c6","b":3,"x":6.55,"y":7.13},{"p":"c6","b":3,"x":6.55,"y":6.35},
{"p":"c7","b":4,"x":6.44,"y":6.84},{"p":"c7","b":4,"x":6.55,"y":7.08},{"p":"c7","b":4,"x":6.55,"y":6.49},
{"p":"c8","b":7,"x":6.52,"y":7.15},{"p":"c8","b":7,"x":6.55,"y":7.15},{"p":"c8","b":7,"x":6.55,"y":6.6},{"p":"c8","b":7,"x":6.53,"y":6.6},
{"p":"c9","b":2,"x":0,"y":0.68},{"p":"c9","b":2,"x":0.14,"y":0.59},{"p":"c9","b":2,"x":0.3,"y":0.34},{"p":"c9","b":2,"x":0.04,"y":0.24},{"p":"c9","b":2,"x":0,"y":0},
{"p":"c10","b":3,"x":0,"y":0.59},{"p":"c10","b":3,"x":0.09,"y":0.39},{"p":"c10","b":3,"x":0,"y":0.1},
{"p":"c11","b":4,"x":0,"y":0.4},{"p":"c11","b":4,"x":0.03,"y":0.3},{"p":"c11","b":4,"x":0,"y":0.15},
{"p":"c12","b":0,"x":0.47,"y":0},{"p":"c12","b":0,"x":0.57,"y":0},{"p":"c12","b":0,"x":0.57,"y":0.1},{"p":"c12","b":0,"x":0.47,"y":0.1},
{"p":"c13","b":0,"x":0.85,"y":0},{"p":"c13","b":0,"x":0.89,"y":0},{"p":"c13","b":0,"x":0.89,"y":0.1},{"p":"c13","b":0,"x":0.85,"y":0.1}
]
},
"hconcat":[
{"width":406,"height":597,"resolve":{"scale":{"x":"independent","y":"independent"}},
"layer":[
{"encoding":{
"x":{"field":"x","type":"quantitative","scale":{"domain":[-7.781,27.833],"nice":false,"zero":false},"axis":{"orient":"bottom","offset":-272,"values":[0,2,4,6,8,10,12,14,16,18,20],"labelPadding":1,"labelOffset":1}},
"y":{"field":"y","type":"quantitative","scale":{"domain":[-25.893,27.173],"nice":false,"zero":false},"axis":{"orient":"left","offset":-69.7,"values":[0,2,4,6,8,10,12,14,16,18,20],"labelPadding":2}}},
"layer":[
{"data":{"name":"polyA"},"transform":[{"filter":"datum.p=='a0'||datum.p=='a1'"}],"mark":{"type":"line","interpolate":"linear-closed","strokeWidth":0.4},"encoding":{"detail":{"field":"p"},"order":{"value":null},"fill":{"field":"b","type":"ordinal","legend":null,"scale":{"domain":[0,1,2,3,4,5,6,7,8,9],"range":["#7b1ba3","#0000ff","#3399ff","#00ffff","#00ff00","#aaff00","#ffff00","#ffbb33","#ff7f1a","#ff0000"]}},"stroke":{"field":"b","type":"ordinal","legend":null,"scale":{"domain":[0,1,2,3,4,5,6,7,8,9],"range":["#7b1ba3","#0000ff","#3399ff","#00ffff","#00ff00","#aaff00","#ffff00","#ffbb33","#ff7f1a","#ff0000"]}}}},
{"data":{"name":"polyA"},"transform":[{"filter":"datum.p!='a0'&&datum.p!='a1'"}],"mark":{"type":"line","interpolate":"cardinal-closed","tension":0.4,"strokeWidth":0.4},"encoding":{"detail":{"field":"p"},"order":{"value":null},"fill":{"field":"b","type":"ordinal","legend":null},"stroke":{"field":"b","type":"ordinal","legend":null}}},
{"data":{"values":[{"x":-2.34,"x2":21.25,"y":-2.04,"y2":-2.04},{"x":-2.02,"x2":-2.02,"y":-2.13,"y2":21.2}]},"mark":{"type":"rule","color":"#555","strokeWidth":1},"encoding":{"x2":{"field":"x2"},"y2":{"field":"y2"}}},
{"data":{"name":"tickA"},"mark":{"type":"rule","color":"#555","strokeWidth":1},"encoding":{"x2":{"field":"x2"},"y2":{"field":"y2"}}},
{"data":{"values":[{"x":0,"x2":6.58,"y":21.19,"y2":21.19}]},"mark":{"type":"rule","color":"#222","strokeWidth":0.8},"encoding":{"x2":{"field":"x2"},"y2":{"field":"y2"}}},
{"data":{"values":[{"x":4.53,"y":5.96,"s":"max"},{"x":3.36,"y":0.06,"s":"min"}]},"mark":{"type":"point","filled":false,"size":110,"color":"#8a8a6a","strokeWidth":0.8},"encoding":{"shape":{"field":"s","legend":null,"scale":{"domain":["max","min"],"range":["M-1,0L1,0M0,-1L0,1M-.7,-.7L.7,.7M-.7,.7L.7,-.7","M-1,-1L1,1M-1,1L1,-1"]}}}}
]},
{"encoding":{
"x":{"field":"u","type":"quantitative","axis":null,"scale":{"domain":[-9,397],"nice":false,"zero":false}},
"y":{"field":"v","type":"quantitative","axis":null,"scale":{"domain":[597,0],"nice":false,"zero":false}}},
"layer":[
{"data":{"name":"bar"},"mark":{"type":"rect"},"encoding":{"x2":{"field":"u2"},"y2":{"field":"v2"},"fill":{"field":"b","type":"ordinal","legend":null}}},
{"data":{"values":[{"u":0,"v":12,"u2":379,"v2":12},{"u":379,"v":12,"u2":379,"v2":510},{"u":0,"v":12,"u2":0,"v2":510},{"u":0,"v":510,"u2":379,"v2":510},{"u":352.7,"v":12,"u2":352.7,"v2":36.7},{"u":352.7,"v":36.7,"u2":379,"v2":36.7}]},"mark":{"type":"rule","color":"#a3a3a3","strokeWidth":1.1},"encoding":{"x2":{"field":"u2"},"y2":{"field":"v2"}}},
{"data":{"values":[{"u":361,"v":12,"u2":361,"v2":33},{"u":361,"v":33,"u2":367.5,"v2":30},{"u":361,"v":33,"u2":366,"v2":36},{"u":51,"v":392.3,"u2":76,"v2":405},{"u":51,"v":488.3,"u2":76,"v2":501.7},{"u":51,"v":392.3,"u2":51,"v2":488.3},{"u":54.3,"v":394,"u2":54.3,"v2":490},{"u":57.7,"v":395.7,"u2":57.7,"v2":491.7},{"u":61,"v":397.3,"u2":61,"v2":493.3},{"u":64.3,"v":399,"u2":64.3,"v2":495},{"u":69.3,"v":401.7,"u2":69.3,"v2":497.7},{"u":73.7,"v":403.7,"u2":73.7,"v2":500},{"u":76,"v":405,"u2":76,"v2":501.7}]},"mark":{"type":"rule","color":"#666","strokeWidth":0.8},"encoding":{"x2":{"field":"u2"},"y2":{"field":"v2"}}},
{"data":{"name":"wire"},"mark":{"type":"rule","color":"#666","strokeWidth":0.9},"encoding":{"x2":{"field":"u2"},"y2":{"field":"v2"}}},
{"data":{"name":"dark"},"mark":{"type":"rule","color":"#222","strokeWidth":1.8},"encoding":{"x2":{"field":"u2"},"y2":{"field":"v2"}}},
{"data":{"name":"glyph"},"mark":{"type":"point","filled":false,"size":55,"color":"#aaa","strokeWidth":0.8},"encoding":{"shape":{"field":"s","legend":null,"scale":{"domain":["max","min"],"range":["M-1,0L1,0M0,-1L0,1M-.7,-.7L.7,.7M-.7,.7L.7,-.7","M-1,-1L1,1M-1,1L1,-1"]}}}},
{"data":{"values":[{"u":22.7,"v":36,"t":"Сечение J=17 (Y=3,7 m)"},{"u":151.7,"v":469.3,"t":"максимум:"},{"u":151.7,"v":481.7,"t":"минимум:"},{"u":151.7,"v":494,"t":"среднее:"},{"u":225,"v":469.3,"t":"1220.2"},{"u":225,"v":481.7,"t":"2,84*10"},{"u":225,"v":494,"t":"80,6"}]},"mark":{"type":"text","font":"Liberation Serif","fontSize":10.5,"align":"left","baseline":"middle","color":"#444"},"encoding":{"text":{"field":"t"}}},
{"data":{"values":[{"u":261,"v":477.3,"t":"-10"}]},"mark":{"type":"text","font":"Liberation Serif","fontSize":6,"align":"left","baseline":"middle","color":"#444"},"encoding":{"text":{"field":"t"}}},
{"data":{"values":[{"u":303.7,"v":351.5,"t":"X [m]"}]},"mark":{"type":"text","font":"DejaVu Sans Mono","fontSize":10.5,"align":"center","baseline":"middle","color":"#333"},"encoding":{"text":{"field":"t"}}},
{"data":{"values":[{"u":31,"v":83.3,"t":"Z [m]"}]},"mark":{"type":"text","font":"DejaVu Sans Mono","fontSize":10.5,"align":"center","baseline":"middle","angle":270,"color":"#333"},"encoding":{"text":{"field":"t"}}},
{"data":{"values":[{"u":135,"v":394.3,"t":"QCHEM [kW/m3]"}]},"mark":{"type":"text","font":"DejaVu Sans","fontSize":12,"align":"left","baseline":"middle","color":"#333"},"encoding":{"text":{"field":"t"}}},
{"data":{"values":[{"u":157.5,"v":445.3,"t":"12.20"},{"u":202.6,"v":445.3,"t":"311.2"},{"u":247.7,"v":445.3,"t":"610.1"},{"u":292.7,"v":445.3,"t":"909.1"},{"u":337.8,"v":445.3,"t":"1208.0"}]},"mark":{"type":"text","font":"DejaVu Sans","fontSize":8.5,"align":"center","baseline":"middle","color":"#444"},"encoding":{"text":{"field":"t"}}},
{"data":{"values":[{"u":218.7,"v":583,"t":"а)"}]},"mark":{"type":"text","font":"Liberation Serif","fontSize":25,"align":"center","baseline":"middle","color":"#222"},"encoding":{"text":{"field":"t"}}}
]}
]},
{"width":407,"height":597,"resolve":{"scale":{"x":"independent","y":"independent"}},
"layer":[
{"encoding":{
"x":{"field":"x","type":"quantitative","scale":{"domain":[-2.868,8.963],"nice":false,"zero":false},"axis":{"orient":"bottom","offset":-272,"values":[0,0.5,1,1.5,2,2.5,3,3.5,4,4.5,5,5.5,6,6.5,7],"format":".1f","labelPadding":1,"labelOffset":1}},
"y":{"field":"y","type":"quantitative","scale":{"domain":[-8.358,9.129],"nice":false,"zero":false},"axis":{"orient":"left","offset":-85.3,"values":[0,0.5,1,1.5,2,2.5,3,3.5,4,4.5,5,5.5,6,6.5,7],"format":".1f","labelPadding":1}}},
"layer":[
{"data":{"name":"polyB"},"transform":[{"filter":"datum.p=='b0'||datum.p=='b1'"}],"mark":{"type":"line","interpolate":"linear-closed","strokeWidth":0.4},"encoding":{"detail":{"field":"p"},"order":{"value":null},"fill":{"field":"b","type":"ordinal","legend":null,"scale":{"domain":[0,1,2,3,4,5,6,7,8,9],"range":["#7b1ba3","#0000ff","#3399ff","#00ffff","#00ff00","#aaff00","#ffff00","#ffbb33","#ff7f1a","#ff0000"]}},"stroke":{"field":"b","type":"ordinal","legend":null,"scale":{"domain":[0,1,2,3,4,5,6,7,8,9],"range":["#7b1ba3","#0000ff","#3399ff","#00ffff","#00ff00","#aaff00","#ffff00","#ffbb33","#ff7f1a","#ff0000"]}}}},
{"data":{"name":"polyB"},"transform":[{"filter":"datum.p!='b0'&&datum.p!='b1'"}],"mark":{"type":"line","interpolate":"cardinal-closed","tension":0.4,"strokeWidth":0.4},"encoding":{"detail":{"field":"p"},"order":{"value":null},"fill":{"field":"b","type":"ordinal","legend":null},"stroke":{"field":"b","type":"ordinal","legend":null}}},
{"data":{"values":[{"x":-0.54,"x2":7.13,"y":-0.516,"y2":-0.516},{"x":-0.504,"x2":-0.504,"y":-0.54,"y2":7.16}]},"mark":{"type":"rule","color":"#555","strokeWidth":1},"encoding":{"x2":{"field":"x2"},"y2":{"field":"y2"}}},
{"data":{"name":"tickBC"},"mark":{"type":"rule","color":"#555","strokeWidth":1},"encoding":{"x2":{"field":"x2"},"y2":{"field":"y2"}}},
{"data":{"values":[{"x":0,"x2":0,"y":-0.26,"y2":7.39},{"x":6.55,"x2":6.55,"y":-0.26,"y2":7.39}]},"mark":{"type":"rule","color":"#7b1ba3","strokeWidth":1},"encoding":{"x2":{"field":"x2"},"y2":{"field":"y2"}}},
{"data":{"values":[{"x":0,"x2":6.55,"y":7.16,"y2":7.16},{"x":0,"x2":6.55,"y":0,"y2":0}]},"mark":{"type":"rule","color":"#333","strokeWidth":0.6},"encoding":{"x2":{"field":"x2"},"y2":{"field":"y2"}}},
{"data":{"values":[{"x":0.61,"y":6.79,"s":"max"},{"x":6.53,"y":7.03,"s":"min"}]},"mark":{"type":"point","filled":false,"size":110,"color":"#a8a878","strokeWidth":0.8},"encoding":{"shape":{"field":"s","legend":null,"scale":{"domain":["max","min"],"range":["M-1,0L1,0M0,-1L0,1M-.7,-.7L.7,.7M-.7,.7L.7,-.7","M-1,-1L1,1M-1,1L1,-1"]}}}}
]},
{"encoding":{
"x":{"field":"u","type":"quantitative","axis":null,"scale":{"domain":[-25,382],"nice":false,"zero":false}},
"y":{"field":"v","type":"quantitative","axis":null,"scale":{"domain":[597,0],"nice":false,"zero":false}}},
"layer":[
{"data":{"name":"bar"},"mark":{"type":"rect"},"encoding":{"x2":{"field":"u2"},"y2":{"field":"v2"},"fill":{"field":"b","type":"ordinal","legend":null}}},
{"data":{"values":[{"u":0,"v":12,"u2":377,"v2":12},{"u":377,"v":12,"u2":377,"v2":510},{"u":0,"v":12,"u2":0,"v2":510},{"u":0,"v":510,"u2":377,"v2":510},{"u":351,"v":12,"u2":351,"v2":36.7},{"u":351,"v":36.7,"u2":377,"v2":36.7}]},"mark":{"type":"rule","color":"#a3a3a3","strokeWidth":1.1},"encoding":{"x2":{"field":"u2"},"y2":{"field":"v2"}}},
{"data":{"values":[{"u":360,"v":12,"u2":360,"v2":33},{"u":360,"v":33,"u2":366.5,"v2":30},{"u":360,"v":33,"u2":365,"v2":36},{"u":37,"v":473,"u2":62.7,"v2":488},{"u":62.7,"v":488,"u2":90,"v2":475},{"u":37,"v":473,"u2":62.7,"v2":460},{"u":62.7,"v":460,"u2":90,"v2":475},{"u":42.1,"v":476,"u2":68.1,"v2":463},{"u":47.3,"v":479,"u2":73.6,"v2":466},{"u":52.4,"v":482,"u2":79,"v2":469},{"u":57.6,"v":485,"u2":84.5,"v2":472}]},"mark":{"type":"rule","color":"#666","strokeWidth":0.8},"encoding":{"x2":{"field":"u2"},"y2":{"field":"v2"}}},
{"data":{"name":"wire"},"mark":{"type":"rule","color":"#666","strokeWidth":0.9},"encoding":{"x2":{"field":"u2"},"y2":{"field":"v2"}}},
{"data":{"name":"dark"},"mark":{"type":"rule","color":"#222","strokeWidth":1.8},"encoding":{"x2":{"field":"u2"},"y2":{"field":"v2"}}},
{"data":{"name":"glyph"},"mark":{"type":"point","filled":false,"size":55,"color":"#aaa","strokeWidth":0.8},"encoding":{"shape":{"field":"s","legend":null,"scale":{"domain":["max","min"],"range":["M-1,0L1,0M0,-1L0,1M-.7,-.7L.7,.7M-.7,.7L.7,-.7","M-1,-1L1,1M-1,1L1,-1"]}}}},
{"data":{"values":[{"u":21.3,"v":35,"t":"Сечение K=32 (Z=4,81 m)"},{"u":151,"v":470,"t":"максимум:"},{"u":151,"v":482.3,"t":"минимум:"},{"u":151,"v":495,"t":"среднее:"},{"u":225,"v":470,"t":"2,71*10"},{"u":225,"v":482.3,"t":"1,19*10"},{"u":225,"v":495,"t":"1550,5"}]},"mark":{"type":"text","font":"Liberation Serif","fontSize":10.5,"align":"left","baseline":"middle","color":"#444"},"encoding":{"text":{"field":"t"}}},
{"data":{"values":[{"u":261,"v":465.5,"t":"4"},{"u":261,"v":478.7,"t":"-4"},{"u":263.3,"v":442,"t":"4"},{"u":308,"v":442,"t":"4"},{"u":353,"v":442,"t":"4"}]},"mark":{"type":"text","font":"Liberation Serif","fontSize":6,"align":"left","baseline":"middle","color":"#444"},"encoding":{"text":{"field":"t"}}},
{"data":{"values":[{"u":304,"v":347.5,"t":"X [m]"}]},"mark":{"type":"text","font":"DejaVu Sans Mono","fontSize":10.5,"align":"center","baseline":"middle","color":"#333"},"encoding":{"text":{"field":"t"}}},
{"data":{"values":[{"u":26.3,"v":83.3,"t":"Y [m]"}]},"mark":{"type":"text","font":"DejaVu Sans Mono","fontSize":10.5,"align":"center","baseline":"middle","angle":270,"color":"#333"},"encoding":{"text":{"field":"t"}}},
{"data":{"values":[{"u":135,"v":394.3,"t":"QCHEM [kW/m3]"}]},"mark":{"type":"text","font":"DejaVu Sans","fontSize":12,"align":"left","baseline":"middle","color":"#333"},"encoding":{"text":{"field":"t"}}},
{"data":{"values":[{"u":157,"v":445.3,"t":"270.9"},{"u":202,"v":445.3,"t":"6908.7"},{"u":244.3,"v":445.3,"t":"1.35·10"},{"u":289.7,"v":445.3,"t":"2.02·10"},{"u":334,"v":445.3,"t":"2.68·10"}]},"mark":{"type":"text","font":"DejaVu Sans","fontSize":8.5,"align":"center","baseline":"middle","color":"#444"},"encoding":{"text":{"field":"t"}}},
{"data":{"values":[{"u":215.7,"v":583,"t":"б)"}]},"mark":{"type":"text","font":"Liberation Serif","fontSize":25,"align":"center","baseline":"middle","color":"#222"},"encoding":{"text":{"field":"t"}}}
]}
]},
{"width":406,"height":597,"resolve":{"scale":{"x":"independent","y":"independent"}},
"layer":[
{"encoding":{
"x":{"field":"x","type":"quantitative","scale":{"domain":[-3.287,8.522],"nice":false,"zero":false},"axis":{"orient":"bottom","offset":-272,"values":[0,0.5,1,1.5,2,2.5,3,3.5,4,4.5,5,5.5,6,6.5,7],"format":".1f","labelPadding":1,"labelOffset":1}},
"y":{"field":"y","type":"quantitative","scale":{"domain":[-8.358,9.129],"nice":false,"zero":false},"axis":{"orient":"left","offset":-99.7,"values":[0,0.5,1,1.5,2,2.5,3,3.5,4,4.5,5,5.5,6,6.5,7],"format":".1f","labelPadding":1}}},
"layer":[
{"data":{"name":"polyC"},"transform":[{"filter":"datum.p=='c0'"}],"mark":{"type":"line","interpolate":"linear-closed","strokeWidth":0.4},"encoding":{"detail":{"field":"p"},"order":{"value":null},"fill":{"field":"b","type":"ordinal","legend":null,"scale":{"domain":[0,1,2,3,4,5,6,7,8,9],"range":["#7b1ba3","#0000ff","#3399ff","#00ffff","#00ff00","#aaff00","#ffff00","#ffbb33","#ff7f1a","#ff0000"]}},"stroke":{"field":"b","type":"ordinal","legend":null,"scale":{"domain":[0,1,2,3,4,5,6,7,8,9],"range":["#7b1ba3","#0000ff","#3399ff","#00ffff","#00ff00","#aaff00","#ffff00","#ffbb33","#ff7f1a","#ff0000"]}}}},
{"data":{"name":"polyC"},"transform":[{"filter":"indexof(['c1','c2','c3','c4'],datum.p)>=0"}],"mark":{"type":"line","interpolate":"cardinal-closed","tension":0.6,"strokeWidth":0.4},"encoding":{"detail":{"field":"p"},"order":{"value":null},"fill":{"field":"b","type":"ordinal","legend":null},"stroke":{"field":"b","type":"ordinal","legend":null}}},
{"data":{"name":"polyC"},"transform":[{"filter":"indexof(['c0','c1','c2','c3','c4'],datum.p)<0"}],"mark":{"type":"line","interpolate":"linear-closed","strokeWidth":0.4},"encoding":{"detail":{"field":"p"},"order":{"value":null},"fill":{"field":"b","type":"ordinal","legend":null},"stroke":{"field":"b","type":"ordinal","legend":null}}},
{"data":{"values":[{"x":-0.54,"x2":7.14,"y":-0.516,"y2":-0.516},{"x":-0.504,"x2":-0.504,"y":-0.54,"y2":7.16}]},"mark":{"type":"rule","color":"#555","strokeWidth":1},"encoding":{"x2":{"field":"x2"},"y2":{"field":"y2"}}},
{"data":{"name":"tickBC"},"mark":{"type":"rule","color":"#555","strokeWidth":1},"encoding":{"x2":{"field":"x2"},"y2":{"field":"y2"}}},
{"data":{"values":[{"x":6.58,"y":7.03,"s":"max"},{"x":6.01,"y":0.13,"s":"min"}]},"mark":{"type":"point","filled":false,"size":110,"color":"#8a9a8a","strokeWidth":0.8},"encoding":{"shape":{"field":"s","legend":null,"scale":{"domain":["max","min"],"range":["M-1,0L1,0M0,-1L0,1M-.7,-.7L.7,.7M-.7,.7L.7,-.7","M-1,-1L1,1M-1,1L1,-1"]}}}}
]},
{"encoding":{
"x":{"field":"u","type":"quantitative","axis":null,"scale":{"domain":[-39,367],"nice":false,"zero":false}},
"y":{"field":"v","type":"quantitative","axis":null,"scale":{"domain":[597,0],"nice":false,"zero":false}}},
"layer":[
{"data":{"name":"bar"},"mark":{"type":"rect"},"encoding":{"x2":{"field":"u2"},"y2":{"field":"v2"},"fill":{"field":"b","type":"ordinal","legend":null}}},
{"data":{"values":[{"u":0,"v":12,"u2":367,"v2":12},{"u":0,"v":12,"u2":0,"v2":510},{"u":0,"v":510,"u2":367,"v2":510},{"u":351.7,"v":12,"u2":351.7,"v2":36.7},{"u":351.7,"v":36.7,"u2":367,"v2":36.7}]},"mark":{"type":"rule","color":"#a3a3a3","strokeWidth":1.1},"encoding":{"x2":{"field":"u2"},"y2":{"field":"v2"}}},
{"data":{"values":[{"u":360,"v":12,"u2":360,"v2":33},{"u":360,"v":33,"u2":366.5,"v2":30},{"u":360,"v":33,"u2":365,"v2":36},{"u":41.5,"v":401.6,"u2":69.2,"v2":387.5},{"u":45.6,"v":403.7,"u2":73.3,"v2":389.6},{"u":49.8,"v":406,"u2":77.5,"v2":391.8},{"u":54,"v":408.3,"u2":81.8,"v2":394},{"u":58,"v":410.4,"u2":85.8,"v2":396.1}]},"mark":{"type":"rule","color":"#666","strokeWidth":0.8},"encoding":{"x2":{"field":"u2"},"y2":{"field":"v2"}}},
{"data":{"name":"wire"},"mark":{"type":"rule","color":"#666","strokeWidth":0.9},"encoding":{"x2":{"field":"u2"},"y2":{"field":"v2"}}},
{"data":{"name":"dark"},"mark":{"type":"rule","color":"#222","strokeWidth":1.8},"encoding":{"x2":{"field":"u2"},"y2":{"field":"v2"}}},
{"data":{"name":"glyph"},"mark":{"type":"point","filled":false,"size":55,"color":"#aaa","strokeWidth":0.8},"encoding":{"shape":{"field":"s","legend":null,"scale":{"domain":["max","min"],"range":["M-1,0L1,0M0,-1L0,1M-.7,-.7L.7,.7M-.7,.7L.7,-.7","M-1,-1L1,1M-1,1L1,-1"]}}}},
{"data":{"values":[{"u":20.3,"v":35.5,"t":"Сечение K=102 (Z=20,96 m)"},{"u":149.3,"v":469.3,"t":"максимум:"},{"u":149.3,"v":481.7,"t":"минимум:"},{"u":149.3,"v":494,"t":"среднее:"},{"u":222.7,"v":469.3,"t":"7,970"},{"u":222.7,"v":481.7,"t":"0,219"},{"u":222.7,"v":494,"t":"1,052"}]},"mark":{"type":"text","font":"Liberation Serif","fontSize":10.5,"align":"left","baseline":"middle","color":"#444"},"encoding":{"text":{"field":"t"}}},
{"data":{"values":[{"u":304.3,"v":347.5,"t":"X [m]"}]},"mark":{"type":"text","font":"DejaVu Sans Mono","fontSize":10.5,"align":"center","baseline":"middle","color":"#333"},"encoding":{"text":{"field":"t"}}},
{"data":{"values":[{"u":26.3,"v":83.3,"t":"Y [m]"}]},"mark":{"type":"text","font":"DejaVu Sans Mono","fontSize":10.5,"align":"center","baseline":"middle","angle":270,"color":"#333"},"encoding":{"text":{"field":"t"}}},
{"data":{"values":[{"u":135,"v":394.3,"t":"QCHEM [kW/m3]"}]},"mark":{"type":"text","font":"DejaVu Sans","fontSize":12,"align":"left","baseline":"middle","color":"#333"},"encoding":{"text":{"field":"t"}}},
{"data":{"values":[{"u":157.5,"v":445.3,"t":"0.297"},{"u":202.6,"v":445.3,"t":"2.196"},{"u":247.7,"v":445.3,"t":"4.095"},{"u":292.7,"v":445.3,"t":"5.993"},{"u":337.8,"v":445.3,"t":"7.892"}]},"mark":{"type":"text","font":"DejaVu Sans","fontSize":8.5,"align":"center","baseline":"middle","color":"#444"},"encoding":{"text":{"field":"t"}}},
{"data":{"values":[{"u":186,"v":583,"t":"в)"}]},"mark":{"type":"text","font":"Liberation Serif","fontSize":25,"align":"center","baseline":"middle","color":"#222"},"encoding":{"text":{"field":"t"}}}
]}
]}
]
}
